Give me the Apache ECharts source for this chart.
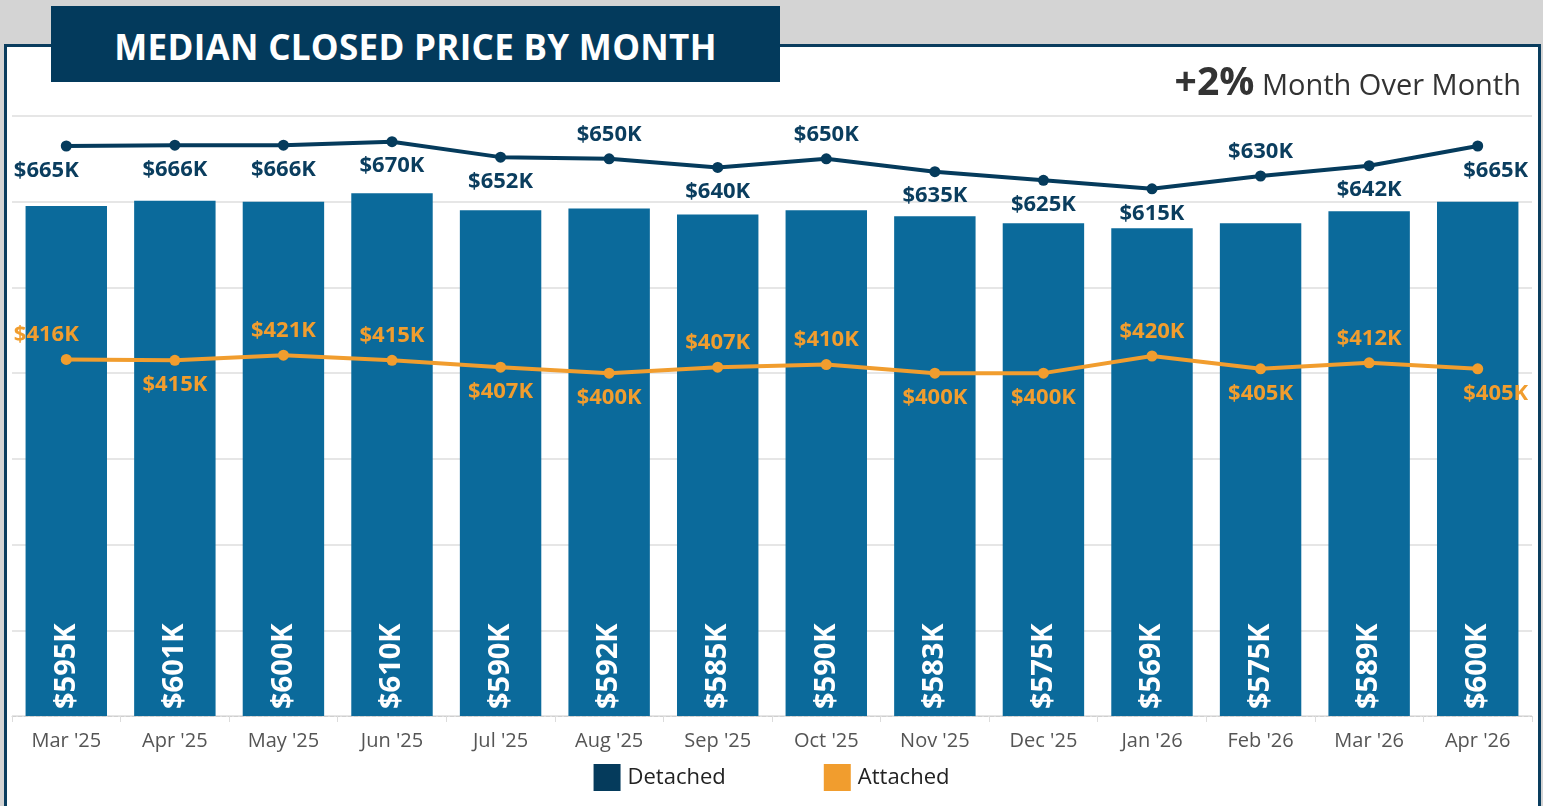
<!DOCTYPE html>
<html>
<head>
<meta charset="utf-8">
<script src="https://cdn.jsdelivr.net/npm/echarts@6/dist/echarts.min.js"></script>
<style>
    html, body { margin:0; padding:0; width:1543px; height:806px; overflow:hidden; background:#d4d4d4; font-family:"Open Sans", sans-serif; }
    #card { position:absolute; left:4px; top:44px; width:1531px; height:800px; border:3px solid #0a3d5e; background:#fff; }
    #main { position:absolute; left:0; top:0; width:1543px; height:806px; }
    #title { position:absolute; left:51px; top:6px; width:729px; height:71px; padding-top:5px; background:#033a5c; color:#fff;
             font-weight:700; font-size:35px; line-height:71px; text-align:center; letter-spacing:0.3px; }
    #mom { position:absolute; right:22px; top:53px; color:#333; font-size:29px; }
    #mom b { font-size:39px; }
</style>
</head>
<body>
<div id="card"></div>
<div id="main"></div>
<div id="title">MEDIAN CLOSED PRICE BY MONTH</div>
<div id="mom"><b>+2%</b> Month Over Month</div>
<script>
// 月份
var months = ["Mar '25","Apr '25","May '25","Jun '25","Jul '25","Aug '25","Sep '25","Oct '25","Nov '25","Dec '25","Jan '26","Feb '26","Mar '26","Apr '26"];
// 总体中位价 (柱子, 单位K)
var overall = [595, 601, 600, 610, 590, 592, 585, 590, 583, 575, 569, 575, 589, 600];
// Detached 折线
var detached = [665, 666, 666, 670, 652, 650, 640, 650, 635, 625, 615, 630, 642, 665];
// Attached 折线
var attached = [416, 415, 421, 415, 407, 400, 407, 410, 400, 400, 420, 405, 412, 405];

// 标签上下位置
var detachedPos = ['bottom','bottom','bottom','bottom','bottom','top','bottom','top','bottom','bottom','bottom','top','bottom','bottom'];
var attachedPos = ['top','bottom','top','top','bottom','bottom','top','top','bottom','bottom','top','bottom','top','bottom'];

function withLabels(vals, pos) {
    var last = vals.length - 1;
    return vals.map(function (v, i) {
        return {
            value: v,
            label: {
                position: pos[i],
                offset: i === 0 ? [-20, 0] : (i === last ? [18, 0] : [0, 0])
            }
        };
    });
}

var chart = echarts.init(document.getElementById('main'));
var option = {
    animation: false,
    legend: {
        data: ['Detached', 'Attached'],
        bottom: 10,
        left: 'center',
        itemWidth: 27,
        itemHeight: 27,
        itemGap: 98,
        icon: 'rect',
        textStyle: { color: '#222', fontSize: 22, fontFamily: 'Open Sans', padding: [0, 0, 0, 2] }
    },
    grid: {
        left: 12,
        right: 11,
        top: 116,
        bottom: 90
    },
    xAxis: {
        type: 'category',
        data: months,
        axisLine: { lineStyle: { color: '#cfcfcf', type: 'dashed', width: 1 } },
        axisTick: { show: true, length: 6, lineStyle: { color: '#dcdcdc' } },
        axisLabel: { color: '#555', fontSize: 20, fontFamily: 'Open Sans', margin: 15 }
    },
    yAxis: {
        type: 'value',
        min: 0,
        max: 700,
        interval: 100,
        axisLabel: { show: false },
        axisLine: { show: false },
        axisTick: { show: false },
        splitLine: { show: true, lineStyle: { color: '#e6e6e6', width: 2 } }
    },
    series: [
        {
            name: 'Overall',
            type: 'bar',
            data: overall,
            barWidth: '75%',
            itemStyle: { color: '#0b6a9b' },
            label: {
                show: true,
                position: 'insideBottom',
                rotate: 90,
                align: 'left',
                verticalAlign: 'middle',
                distance: 7,
                color: '#fff',
                fontSize: 29,
                fontWeight: 'bold',
                fontFamily: 'Open Sans',
                formatter: function (p) { return '$' + p.value + 'K'; }
            }
        },
        {
            name: 'Detached',
            type: 'line',
            data: withLabels(detached, detachedPos),
            symbol: 'circle',
            symbolSize: 11,
            lineStyle: { color: '#053b5c', width: 4 },
            itemStyle: { color: '#053b5c' },
            label: {
                show: true,
                distance: 8,
                color: '#0a3d5e',
                fontSize: 22,
                fontWeight: 'bold',
                fontFamily: 'Open Sans',
                formatter: function (p) { return '$' + p.value + 'K'; }
            },
            z: 5
        },
        {
            name: 'Attached',
            type: 'line',
            data: withLabels(attached, attachedPos),
            symbol: 'circle',
            symbolSize: 11,
            lineStyle: { color: '#f19d2e', width: 4 },
            itemStyle: { color: '#f19d2e' },
            label: {
                show: true,
                distance: 8,
                color: '#f19d2e',
                fontSize: 22,
                fontWeight: 'bold',
                fontFamily: 'Open Sans',
                formatter: function (p) { return '$' + p.value + 'K'; }
            },
            z: 5
        }
    ]
};
chart.setOption(option);
</script>
</body>
</html>
